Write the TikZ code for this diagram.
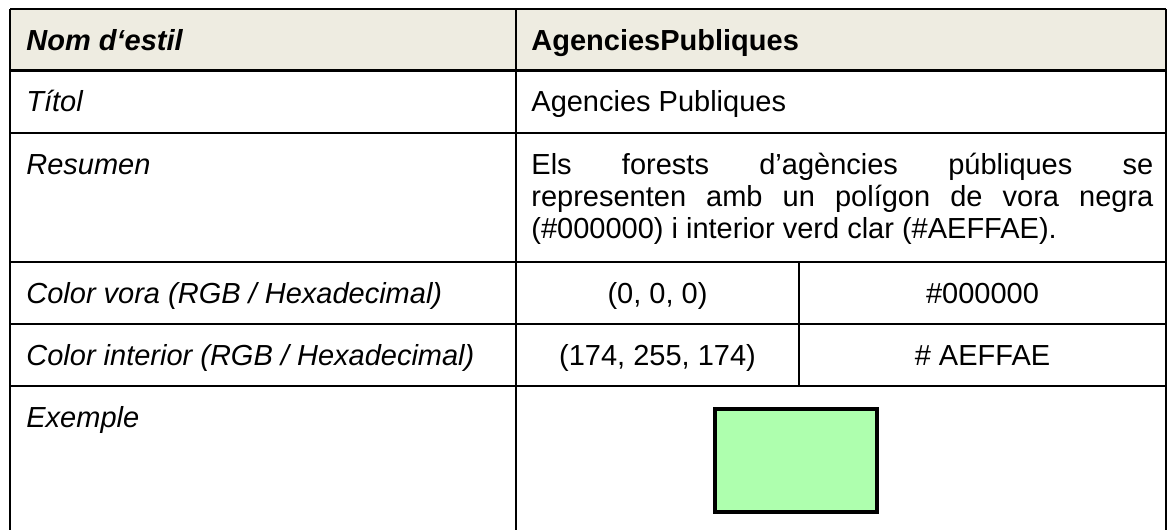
\documentclass[tikz,border=0pt]{standalone}
\usepackage{fontspec}
\setmainfont{Liberation Sans}
\usepackage{tikz}
\definecolor{capcolor}{HTML}{EEECE1}
\definecolor{verdclar}{HTML}{AEFFAE}
\def\Xl{10}
\def\Xm{516}
\def\Xh{799}
\def\Xr{1166}
\def\Ya{9}
\def\Yb{70.7}
\def\Yc{133}
\def\Yd{262}
\def\Ye{324}
\def\Yf{386}
\def\Yg{530}
\def\Pad{16}
\def\Base{41}

\begin{document}
\begin{tikzpicture}[x=0.5pt, y=-0.5pt,
  cell/.style={anchor=base west, inner sep=0pt, font=\fontsize{14.5}{16}\selectfont},
  lbl/.style={cell, font=\fontsize{14.5}{16}\selectfont\itshape},
  mid/.style={cell, anchor=base}]
\useasboundingbox (0,0) rectangle (1167,530);

\fill[capcolor] (\Xl,\Ya) rectangle (\Xr,\Yb);

\draw[line width=1.4pt] (\Xl,\Ya) -- (\Xr,\Ya);
\draw[line width=1.4pt] (\Xl,\Yb) -- (\Xr,\Yb);
\draw[line width=1pt] (\Xl,\Yc) -- (\Xr,\Yc);
\draw[line width=1.2pt] (\Xl,\Yd) -- (\Xr,\Yd);
\draw[line width=1.2pt] (\Xl,\Ye) -- (\Xr,\Ye);
\draw[line width=1.2pt] (\Xl,\Yf) -- (\Xr,\Yf);
\draw[line width=1pt] (\Xl,\Ya) -- (\Xl,\Yg);
\draw[line width=1pt] (\Xm,\Ya) -- (\Xm,\Yg);
\draw[line width=1pt] (\Xh,\Yd) -- (\Xh,\Yf);
\draw[line width=1pt] (\Xr,\Ya) -- (\Xr,\Yg);

\node[lbl, font=\fontsize{14.5}{16}\selectfont\bfseries\itshape] (nom) at (\Xl + \Pad, \Ya + \Base) {Nom d‘estil};
\node[cell, font=\fontsize{14.5}{16}\selectfont\bfseries] (nomval) at (\Xm + 15, \Ya + \Base) {AgenciesPubliques};

\node[lbl] (titol) at (\Xl + \Pad, \Yb + \Base) {Títol};
\node[cell] (titolval) at (\Xm + 15, \Yb + \Base) {Agencies Publiques};

\node[lbl] (resum) at (\Xl + \Pad, \Yc + \Base) {Resumen};
\node[cell, text width=311pt, align=justify] (resumval) at (\Xm + 15, \Yc + \Base)
  {Els forests d’agències públiques se\linebreak representen amb un polígon de vora negra\linebreak (\#000000) i interior verd clar (\#AEFFAE).};

\node[lbl] (vora) at (\Xl + \Pad, \Yd + \Base) {Color vora (RGB / Hexadecimal)};
\node[mid] (vorargb) at ({(\Xm + \Xh) / 2}, \Yd + \Base) {(0, 0, 0)};
\node[mid] (vorahex) at ({(\Xh + \Xr) / 2}, \Yd + \Base) {\#000000};

\node[lbl] (interior) at (\Xl + \Pad, \Ye + \Base) {Color interior (RGB / Hexadecimal)};
\node[mid] (interiorrgb) at ({(\Xm + \Xh) / 2}, \Ye + \Base) {(174, 255, 174)};
\node[mid] (interiorhex) at ({(\Xh + \Xr) / 2}, \Ye + \Base) {\# AEFFAE};

\node[lbl] (exemple) at (\Xl + \Pad, \Yf + \Base) {Exemple};
\node[draw=black, fill=verdclar, line width=2pt, inner sep=0pt,
  minimum width=81pt, minimum height=51.5pt] (mostra) at (796, 460.5) {};
\end{tikzpicture}
\end{document}
